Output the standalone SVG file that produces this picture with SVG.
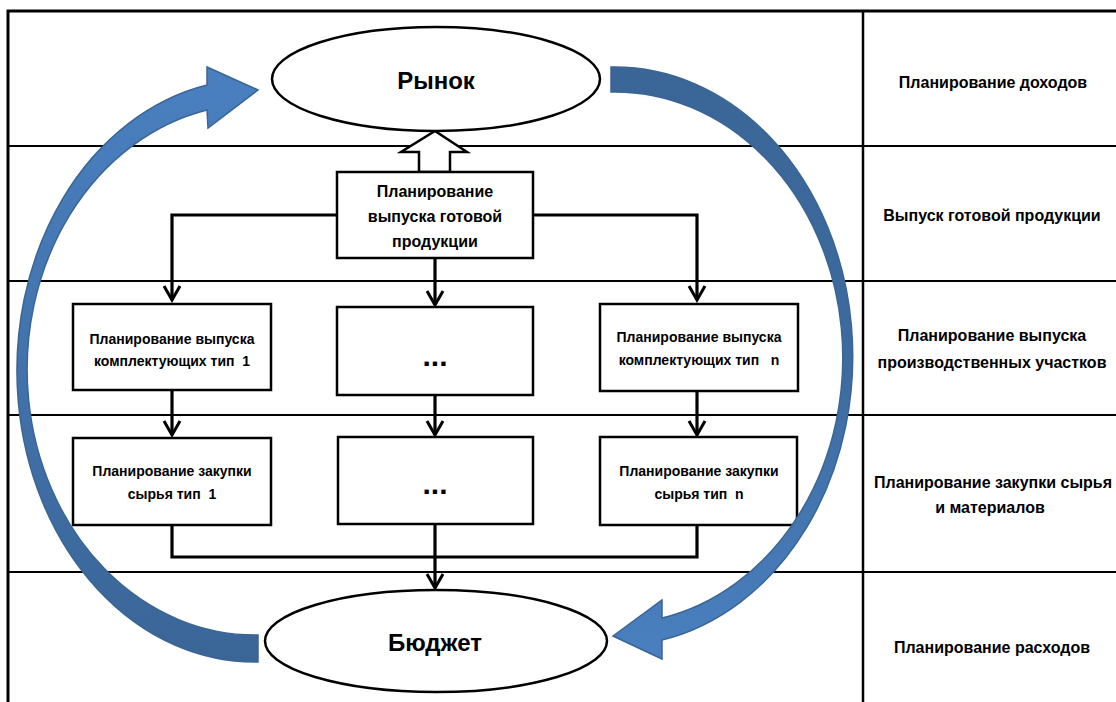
<svg xmlns="http://www.w3.org/2000/svg" width="1116" height="702" viewBox="0 0 1116 702">
<defs>
<style>
.tbl{stroke:#000;stroke-width:2.2;fill:none}
.box{fill:#fff;stroke:#000;stroke-width:2.5}
.ell{fill:#fff;stroke:#000;stroke-width:2.5}
.con{fill:none;stroke:#000;stroke-width:3.2}
.t{font-family:"Liberation Sans",Arial,sans-serif;font-weight:bold;fill:#000;text-anchor:middle;dominant-baseline:central;white-space:pre}
.dots{font-family:"Liberation Sans",Arial,sans-serif;font-weight:bold;fill:#000;text-anchor:middle;font-size:30px}
.s14{font-size:14px}
.s16{font-size:16px}
.s24{font-size:24px}
.blue{stroke:#3a6594;stroke-width:1.5}
</style>
<marker id="ah" viewBox="0 0 20 20" refX="17" refY="10" markerWidth="20" markerHeight="20" markerUnits="userSpaceOnUse" orient="auto">
<path d="M3,2 L17,10 L3,18" fill="none" stroke="#000" stroke-width="3"/>
</marker>
<linearGradient id="gL" gradientUnits="userSpaceOnUse" x1="0" y1="67" x2="0" y2="665">
<stop offset="0" stop-color="#4a80c0"/><stop offset="1" stop-color="#3a6597"/>
</linearGradient>
<linearGradient id="gR" gradientUnits="userSpaceOnUse" x1="0" y1="67" x2="0" y2="660">
<stop offset="0" stop-color="#3a6597"/><stop offset="0.5" stop-color="#3d6b9f"/><stop offset="1" stop-color="#4a80c0"/>
</linearGradient>
</defs>

<g id="table">
<rect x="8" y="11" width="1120" height="700" class="tbl" style="stroke-width:3"/>
<line x1="863" y1="11" x2="863" y2="702" class="tbl" style="stroke-width:2.5"/>
<line x1="8" y1="146" x2="1116" y2="146" class="tbl"/>
<line x1="8" y1="281" x2="1116" y2="281" class="tbl"/>
<line x1="8" y1="415" x2="1116" y2="415" class="tbl"/>
<line x1="8" y1="572" x2="1116" y2="572" class="tbl"/>
<text class="t s16" x="993" y="82">Планирование доходов</text>
<text class="t s16" x="992" y="215">Выпуск готовой продукции</text>
<text class="t s16" x="992" y="335">Планирование выпуска</text>
<text class="t s16" x="992" y="362">производственных участков</text>
<text class="t s16" x="993" y="482">Планирование закупки сырья</text>
<text class="t s16" x="990" y="507">и материалов</text>
<text class="t s16" x="992" y="647">Планирование расходов</text>
</g>

<g id="connectors">
<polygon points="419,172 419,152 401,152 435,131 467,152 450,152 450,172" fill="#fff" stroke="#000" stroke-width="2.5"/>
<path class="con" d="M337,215 H172 V300" marker-end="url(#ah)"/>
<path class="con" d="M533,215 H697 V300" marker-end="url(#ah)"/>
<path class="con" d="M435,258 V305" marker-end="url(#ah)"/>
<path class="con" d="M172,390 V435" marker-end="url(#ah)"/>
<path class="con" d="M435,395 V435" marker-end="url(#ah)"/>
<path class="con" d="M697,391 V435" marker-end="url(#ah)"/>
<path class="con" d="M172,525 V557 H697 V525"/>
<path class="con" d="M435,524 V588" marker-end="url(#ah)"/>
</g>

<g id="market">
<ellipse class="ell" cx="436" cy="79" rx="164" ry="52"/>
<text class="t s24" x="436" y="80">Рынок</text>
</g>

<g id="finished-output">
<rect class="box" x="337" y="172" width="196" height="86"/>
<text class="t s16" x="435" y="191">Планирование</text>
<text class="t s16" x="435" y="216">выпуска готовой</text>
<text class="t s16" x="435" y="241">продукции</text>
</g>

<g id="components-1">
<rect class="box" x="73" y="304" width="198" height="86"/>
<text class="t s14" x="172" y="339">Планирование выпуска</text>
<text class="t s14" x="172" y="361">комплектующих тип  1</text>
</g>

<g id="components-mid">
<rect class="box" x="337" y="307" width="196" height="88"/>
<text class="dots" x="435" y="366">...</text>
</g>

<g id="components-n">
<rect class="box" x="600" y="304" width="198" height="87"/>
<text class="t s14" x="699" y="337">Планирование выпуска</text>
<text class="t s14" x="699" y="360">комплектующих тип   n</text>
</g>

<g id="purchase-1">
<rect class="box" x="73" y="438" width="198" height="87"/>
<text class="t s14" x="172" y="471">Планирование закупки</text>
<text class="t s14" x="172" y="494">сырья тип  1</text>
</g>

<g id="purchase-mid">
<rect class="box" x="338" y="437" width="195" height="87"/>
<text class="dots" x="435" y="494">...</text>
</g>

<g id="purchase-n">
<rect class="box" x="600" y="437" width="197" height="88"/>
<text class="t s14" x="699" y="471">Планирование закупки</text>
<text class="t s14" x="699" y="494">сырья тип  n</text>
</g>

<g id="budget">
<ellipse class="ell" cx="436" cy="641" rx="171" ry="51"/>
<text class="t s24" x="435" y="642">Бюджет</text>
</g>

<g id="cycle-arrows">
<path class="blue" fill="url(#gL)" d="M207,85 A238,291.5 0 0 0 258,662 L258,635 A228,265.5 0 0 1 207,110 L208,128 L258,90 L207,67 Z"/>
<path class="blue" fill="url(#gR)" d="M611,67 A238,289.4 0 0 1 662,640 L662,659 L613,636 L662,600 L662,618 A228,265.9 0 0 0 611,92 Z"/>
</g>
</svg>
